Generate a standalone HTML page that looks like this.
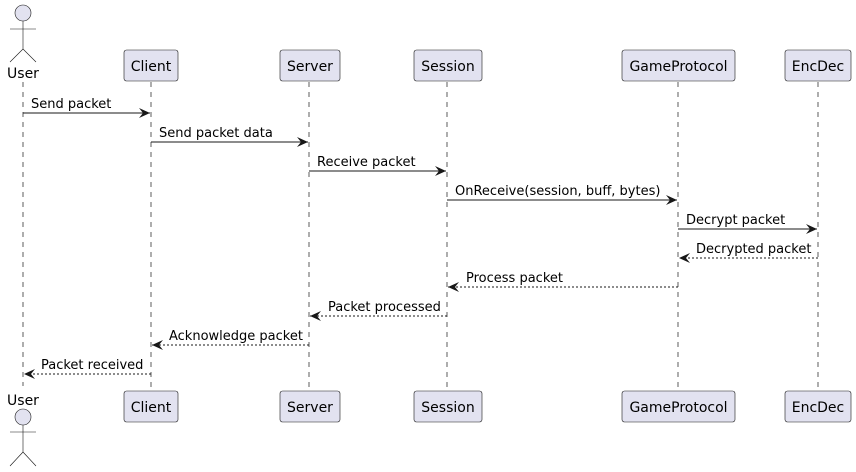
<!DOCTYPE html>
<html><head><meta charset="utf-8"><style>
html,body{margin:0;padding:0;background:#fff;}
svg{display:block;font-family:"DejaVu Sans","Liberation Sans",sans-serif;}
</style></head><body>
<svg width="856" height="472" viewBox="0 0 856 472" xmlns="http://www.w3.org/2000/svg">
<defs>
<marker id="ah" markerWidth="12" markerHeight="10" refX="11" refY="5" orient="auto" markerUnits="userSpaceOnUse">
<path d="M0,0 L11,5 L0,10 L4,5 Z" fill="#181818"/>
</marker>
</defs>
<g stroke="#181818" stroke-width="0.7" stroke-dasharray="5,5">
<line x1="23" y1="82" x2="23" y2="386"/>
<line x1="151" y1="82" x2="151" y2="391"/>
<line x1="309" y1="82" x2="309" y2="391"/>
<line x1="447" y1="82" x2="447" y2="391"/>
<line x1="678" y1="82" x2="678" y2="391"/>
<line x1="818" y1="82" x2="818" y2="391"/>
</g>
<g fill="#E2E2F0" stroke="#181818" stroke-width="0.6">
<rect x="124" y="50" width="54" height="31" rx="2.5"/>
<rect x="280" y="50" width="60" height="31" rx="2.5"/>
<rect x="414" y="50" width="68" height="31" rx="2.5"/>
<rect x="622" y="50" width="113" height="31" rx="2.5"/>
<rect x="785" y="50" width="66" height="31" rx="2.5"/>
<rect x="124" y="391" width="54" height="31" rx="2.5"/>
<rect x="280" y="391" width="60" height="31" rx="2.5"/>
<rect x="414" y="391" width="68" height="31" rx="2.5"/>
<rect x="622" y="391" width="113" height="31" rx="2.5"/>
<rect x="785" y="391" width="66" height="31" rx="2.5"/>
</g>
<g font-size="14" fill="#000" text-anchor="middle">
<text x="151" y="71">Client</text>
<text x="310" y="71">Server</text>
<text x="448" y="71">Session</text>
<text x="678.5" y="71">GameProtocol</text>
<text x="818" y="71">EncDec</text>
<text x="151" y="412">Client</text>
<text x="310" y="412">Server</text>
<text x="448" y="412">Session</text>
<text x="678.5" y="412">GameProtocol</text>
<text x="818" y="412">EncDec</text>
<text x="23" y="78">User</text>
<text x="23" y="405">User</text>
</g>
<g fill="#E2E2F0" stroke="#181818" stroke-width="0.6">
<circle cx="23" cy="13" r="8"/>
<path d="M23,21 V49 M10,29 H36 M23,49 L10,62 M23,49 L36,62" fill="none"/>
<circle cx="23" cy="417" r="8"/>
<path d="M23,425 V452 M10,432 H36 M23,452 L10,466 M23,452 L36,466" fill="none"/>
</g>
<g stroke="#181818" stroke-width="1">
<line x1="23" y1="113" x2="150" y2="113" marker-end="url(#ah)"/>
<line x1="151" y1="142" x2="308" y2="142" marker-end="url(#ah)"/>
<line x1="309" y1="171" x2="446" y2="171" marker-end="url(#ah)"/>
<line x1="447" y1="200" x2="677" y2="200" marker-end="url(#ah)"/>
<line x1="678" y1="229" x2="817" y2="229" marker-end="url(#ah)"/>
<g stroke-dasharray="2,2">
<line x1="818" y1="258" x2="679" y2="258" marker-end="url(#ah)"/>
<line x1="678" y1="287" x2="448" y2="287" marker-end="url(#ah)"/>
<line x1="447" y1="316" x2="310" y2="316" marker-end="url(#ah)"/>
<line x1="309" y1="345" x2="152" y2="345" marker-end="url(#ah)"/>
<line x1="151" y1="374" x2="24" y2="374" marker-end="url(#ah)"/>
</g>
</g>
<g font-size="13" fill="#000">
<text x="31" y="108">Send packet</text>
<text x="159" y="137">Send packet data</text>
<text x="317" y="166">Receive packet</text>
<text x="455" y="195">OnReceive(session, buff, bytes)</text>
<text x="686" y="224">Decrypt packet</text>
<text x="696" y="253">Decrypted packet</text>
<text x="466" y="282">Process packet</text>
<text x="328" y="311">Packet processed</text>
<text x="169" y="340">Acknowledge packet</text>
<text x="41" y="369">Packet received</text>
</g>
</svg>
</body></html>
